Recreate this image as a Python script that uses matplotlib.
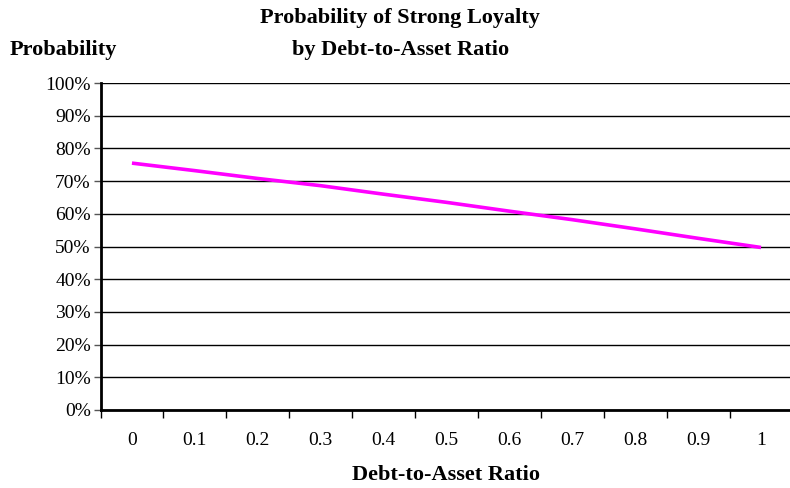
import numpy as np
import matplotlib.pyplot as plt
from matplotlib.ticker import FixedLocator, PercentFormatter

ratios = ["0", "0.1", "0.2", "0.3", "0.4", "0.5", "0.6", "0.7", "0.8", "0.9", "1"]
probability = [75.5, 73.2, 70.8, 68.6, 66.0, 63.5, 60.8, 58.2, 55.4, 52.5, 49.7]
y_ticks = [0, 10, 20, 30, 40, 50, 60, 70, 80, 90, 100]

plt.rcParams["font.family"] = ["Liberation Serif", "DejaVu Serif"]

fig = plt.figure(figsize=(7.9, 4.88), dpi=100)
ax = fig.add_axes([100.5 / 790, 78 / 488, 692 / 790, 327 / 488])

x = np.arange(len(ratios))
ax.plot(x, probability, color="#ff00ff", lw=2.6, solid_capstyle="butt")

ax.set_xlim(-0.5, len(ratios) - 0.5)
ax.set_ylim(0, 100)

ax.set_yticks(y_ticks)
ax.yaxis.set_major_formatter(PercentFormatter(decimals=0))
ax.yaxis.grid(True, color="black", lw=1)
ax.set_axisbelow(True)

# category ticks sit between the labels, labels at the category centres
ax.xaxis.set_major_locator(FixedLocator(np.arange(len(ratios) + 1) - 0.5))
ax.xaxis.set_minor_locator(FixedLocator(x))
ax.set_xticklabels([])
ax.set_xticklabels(ratios, minor=True)
ax.tick_params(axis="x", which="major", length=6, width=1, color="black")
ax.tick_params(axis="x", which="minor", length=0, pad=16, labelsize=14)
ax.tick_params(axis="y", length=5, width=1, color="#555555", labelsize=14, pad=2)

for side in ["top", "right"]:
    ax.spines[side].set_visible(False)
ax.spines["left"].set_linewidth(2)
ax.spines["bottom"].set_linewidth(2)

fig.text(400 / 790, 1 - 18 / 488, "Probability of Strong Loyalty", ha="center", va="center",
         fontsize=16, fontweight="bold")
fig.text(401 / 790, 1 - 50 / 488, "by Debt-to-Asset Ratio", ha="center", va="center",
         fontsize=16, fontweight="bold")
fig.text(10 / 790, 1 - 50 / 488, "Probability", ha="left", va="center",
         fontsize=16, fontweight="bold")
fig.text(446 / 790, 1 - 475 / 488, "Debt-to-Asset Ratio", ha="center", va="center",
         fontsize=16, fontweight="bold")

fig.savefig("out.png", dpi=100)
